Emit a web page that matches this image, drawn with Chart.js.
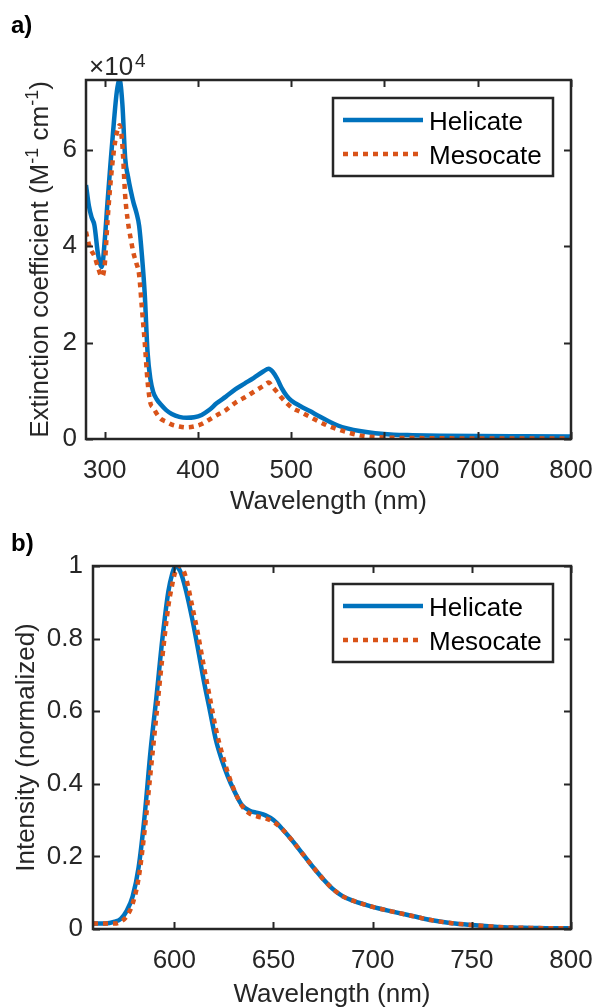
<!DOCTYPE html>
<html>
<head>
<meta charset="utf-8">
<script src="https://cdn.jsdelivr.net/npm/chart.js@4"></script>
<style>
  body { margin: 0; background: #fff; width: 596px; height: 1008px; overflow: hidden; }
  canvas { position: absolute; left: 0; }
  #absorption { top: 0; }
  #emission { top: 520px; }
</style>
</head>
<body>
<canvas id="absorption" width="596" height="520"></canvas>
<canvas id="emission" width="596" height="488"></canvas>
<script>
// a) absorption, extinction coefficient in units of 10^4 M^-1 cm^-1
const absWavelength = [280, 283, 286, 289, 293, 297, 300, 303, 306, 310, 313, 316, 319, 322, 325, 328,
  331, 334, 337, 340, 343, 346, 349, 352, 356, 360, 366, 372, 380, 388, 396, 404, 412, 420, 430, 440,
  450, 460, 470, 476, 480, 485, 490, 495, 500, 510, 520, 530, 540, 550, 560, 575, 590, 610, 630, 660,
  700, 750, 800];
const helicateAbs = [5.27, 4.85, 4.6, 4.44, 3.82, 3.57, 4.1, 4.9, 5.65, 6.6, 7.2, 7.45, 6.95, 5.83, 5.45, 5.15,
  4.9, 4.7, 4.42, 3.8, 3.0, 1.8, 1.25, 0.98, 0.82, 0.72, 0.6, 0.52, 0.46, 0.44, 0.45, 0.5, 0.6, 0.74, 0.88, 1.03,
  1.15, 1.27, 1.4, 1.46, 1.4, 1.25, 1.05, 0.9, 0.8, 0.68, 0.58, 0.47, 0.37, 0.28, 0.22, 0.16, 0.12, 0.09, 0.08, 0.07,
  0.06, 0.055, 0.05];
const mesocateAbs = [4.3, 4.05, 3.9, 3.8, 3.55, 3.37, 3.6, 4.5, 5.25, 6.0, 6.35, 6.51, 6.1, 5.05, 4.5, 4.15,
  3.85, 3.65, 3.4, 2.7, 2.0, 1.2, 0.75, 0.65, 0.52, 0.42, 0.36, 0.3, 0.26, 0.24, 0.26, 0.31, 0.4, 0.49, 0.6, 0.75,
  0.86, 0.98, 1.1, 1.17, 1.08, 0.97, 0.85, 0.75, 0.66, 0.56, 0.46, 0.36, 0.27, 0.2, 0.14, 0.07, 0.04, 0.025, 0.02, 0.015,
  0.01, 0.01, 0.01];
const absTicksX = [300, 400, 500, 600, 700, 800];
const absTicksY = [0, 2, 4, 6];

// b) emission, normalized intensity
const emWavelength = [559, 565, 570, 573, 576, 579, 582, 585, 588, 591, 594, 597, 599, 600, 601, 602,
  603, 604, 606, 609, 612, 615, 618, 621, 624, 627, 630, 634, 638, 642, 646, 650, 655, 660, 665, 670,
  675, 680, 685, 690, 700, 710, 720, 730, 740, 750, 760, 770, 780, 790, 800];
const helicateEm = [0.015, 0.015, 0.02, 0.028, 0.05, 0.09, 0.17, 0.31, 0.49, 0.64, 0.8, 0.93, 0.98, 0.995, 1.0, 0.995,
  0.985, 0.97, 0.93, 0.855, 0.77, 0.68, 0.6, 0.52, 0.465, 0.42, 0.383, 0.342, 0.326, 0.32, 0.313, 0.3, 0.272, 0.24, 0.205, 0.17,
  0.138, 0.11, 0.09, 0.078, 0.061, 0.048, 0.036, 0.024, 0.016, 0.011, 0.007, 0.004, 0.003, 0.002, 0.002];
const mesocateEm = [0.015, 0.015, 0.015, 0.02, 0.035, 0.07, 0.14, 0.27, 0.43, 0.59, 0.75, 0.89, 0.95, 0.975, 0.99, 0.998,
  1.0, 0.995, 0.965, 0.89, 0.81, 0.72, 0.635, 0.55, 0.485, 0.43, 0.385, 0.34, 0.318, 0.31, 0.305, 0.295, 0.272, 0.24, 0.205, 0.17,
  0.138, 0.11, 0.09, 0.078, 0.061, 0.048, 0.036, 0.024, 0.016, 0.011, 0.007, 0.004, 0.003, 0.002, 0.002];
const emTicksX = [600, 650, 700, 750, 800];
const emTicksY = [0, 0.2, 0.4, 0.6, 0.8, 1];

const seriesNames = ['Helicate', 'Mesocate'];

const FONT = '"Liberation Sans", Arial, Helvetica, sans-serif';
const SIZE = 26;
const INK = '#262626';
const BLUE = '#0072BD';
const ORANGE = '#D95319';

// per-panel layout, looked up by canvas id
const panels = {
  absorption: {
    height: 520,
    area: { left: 86, top: 80, right: 571, bottom: 439 },
    label: 'a)', labelY: 33,
    yTitle: [['Extinction coefficient (M', 0], ['-1', 1], [' cm', 0], ['-1', 1], [')', 0]],
    yTitleX: 48,
    xTitleY: 509,
    multiplier: true,
    yPad: 9
  },
  emission: {
    height: 488,
    area: { left: 93, top: 46, right: 571, bottom: 409 },
    label: 'b)', labelY: 31,
    yTitle: [['Intensity (normalized)', 0]],
    yTitleX: 34,
    xTitleY: 482,
    multiplier: false,
    yPad: 10
  }
};

function richWidth(ctx, parts, size) {
  let w = 0;
  parts.forEach(([t, sup]) => {
    ctx.font = (sup ? Math.round(size * 0.7) : size) + 'px ' + FONT;
    w += ctx.measureText(t).width;
  });
  return w;
}

function drawRich(ctx, parts, size, x) {
  parts.forEach(([t, sup]) => {
    ctx.font = (sup ? Math.round(size * 0.7) : size) + 'px ' + FONT;
    ctx.fillText(t, x, sup ? -size * 0.4 : 0);
    x += ctx.measureText(t).width;
  });
}

const framePlugin = {
  id: 'frame',
  afterDatasetsDraw(chart) {
    const p = panels[chart.canvas.id];
    const { ctx, chartArea: a, scales } = chart;
    ctx.save();
    ctx.strokeStyle = INK;
    ctx.lineWidth = 2.5;
    ctx.strokeRect(a.left, a.top, a.right - a.left, a.bottom - a.top);
    // inward ticks on all four sides
    const tl = 7;
    ctx.beginPath();
    scales.x.ticks.forEach(t => {
      const px = Math.round(scales.x.getPixelForValue(t.value)) + 0.5;
      ctx.moveTo(px, a.bottom); ctx.lineTo(px, a.bottom - tl);
      ctx.moveTo(px, a.top); ctx.lineTo(px, a.top + tl);
    });
    scales.y.ticks.forEach(t => {
      const py = Math.round(scales.y.getPixelForValue(t.value)) + 0.5;
      ctx.moveTo(a.left, py); ctx.lineTo(a.left + tl, py);
      ctx.moveTo(a.right, py); ctx.lineTo(a.right - tl, py);
    });
    ctx.lineWidth = 2;
    ctx.stroke();

    // legend
    const bw = 220, bh = 78;
    const bx = a.right - 18 - bw, by = a.top + 18;
    ctx.fillStyle = '#fff';
    ctx.fillRect(bx, by, bw, bh);
    ctx.lineWidth = 2.5;
    ctx.strokeStyle = INK;
    ctx.strokeRect(bx, by, bw, bh);
    const rows = [by + 22, by + 56];
    ctx.lineWidth = 4.5;
    ctx.lineCap = 'butt';
    ctx.strokeStyle = BLUE;
    ctx.setLineDash([]);
    ctx.beginPath(); ctx.moveTo(bx + 10, rows[0]); ctx.lineTo(bx + 90, rows[0]); ctx.stroke();
    ctx.strokeStyle = ORANGE;
    ctx.setLineDash([5, 5]);
    ctx.beginPath(); ctx.moveTo(bx + 10, rows[1]); ctx.lineTo(bx + 90, rows[1]); ctx.stroke();
    ctx.setLineDash([]);
    ctx.fillStyle = '#000';
    ctx.font = SIZE + 'px ' + FONT;
    ctx.textBaseline = 'alphabetic';
    ctx.textAlign = 'left';
    seriesNames.forEach((n, i) => ctx.fillText(n, bx + 96, rows[i] + 10));

    // panel label
    ctx.fillStyle = '#000';
    ctx.font = 'bold 24px ' + FONT;
    ctx.fillText(p.label, 11, p.labelY);

    // axis titles
    ctx.fillStyle = INK;
    ctx.font = SIZE + 'px ' + FONT;
    ctx.textAlign = 'center';
    ctx.fillText('Wavelength (nm)', (a.left + a.right) / 2, p.xTitleY);
    ctx.textAlign = 'left';
    ctx.save();
    ctx.translate(p.yTitleX, (a.top + a.bottom) / 2);
    ctx.rotate(-Math.PI / 2);
    const w = richWidth(ctx, p.yTitle, SIZE);
    drawRich(ctx, p.yTitle, SIZE, -w / 2);
    ctx.restore();

    if (p.multiplier) {
      ctx.font = SIZE + 'px ' + FONT;
      ctx.fillText('\u00d710', a.left + 3, a.top - 5);
      const mw = ctx.measureText('\u00d710').width;
      ctx.font = '19px ' + FONT;
      ctx.fillText('4', a.left + 5 + mw, a.top - 13);
    }
    ctx.restore();
  }
};

function makePanel(id, xs, hel, meso, xMin, xMax, yMax, ticksX, ticksY) {
  const p = panels[id];
  const tickFont = { family: FONT, size: SIZE };
  return new Chart(document.getElementById(id), {
    type: 'line',
    data: {
      datasets: [
        {
          label: seriesNames[0],
          data: xs.map((x, i) => ({ x: x, y: hel[i] })),
          borderColor: BLUE,
          borderWidth: 4.5,
          pointRadius: 0,
          cubicInterpolationMode: 'monotone',
          order: 1
        },
        {
          label: seriesNames[1],
          data: xs.map((x, i) => ({ x: x, y: meso[i] })),
          borderColor: ORANGE,
          borderWidth: 4.5,
          borderDash: [5, 5],
          borderCapStyle: 'butt',
          pointRadius: 0,
          cubicInterpolationMode: 'monotone',
          order: 0
        }
      ]
    },
    options: {
      responsive: false,
      animation: false,
      devicePixelRatio: 1,
      layout: { padding: { top: p.area.top, right: 596 - p.area.right, left: 0, bottom: 0 } },
      plugins: { legend: { display: false }, tooltip: { enabled: false } },
      scales: {
        x: {
          type: 'linear',
          min: xMin,
          max: xMax,
          afterBuildTicks: s => { s.ticks = ticksX.map(v => ({ value: v })); },
          afterFit: s => { s.height = p.height - p.area.bottom; s.paddingLeft = 0; s.paddingRight = 0; },
          grid: { display: false, drawTicks: false },
          border: { display: false },
          ticks: { padding: 16, color: INK, font: tickFont, maxRotation: 0, autoSkip: false, callback: v => String(v) }
        },
        y: {
          type: 'linear',
          min: 0,
          max: yMax,
          afterBuildTicks: s => { s.ticks = ticksY.map(v => ({ value: v })); },
          afterFit: s => { s.width = p.area.left; s.paddingTop = 0; s.paddingBottom = 0; },
          grid: { display: false, drawTicks: false },
          border: { display: false },
          ticks: { padding: p.yPad, color: INK, font: tickFont, autoSkip: false, callback: v => String(v) }
        }
      }
    },
    plugins: [framePlugin]
  });
}

makePanel('absorption', absWavelength, helicateAbs, mesocateAbs, 280, 800, 7.45, absTicksX, absTicksY);
makePanel('emission', emWavelength, helicateEm, mesocateEm, 559, 800, 1, emTicksX, emTicksY);
</script>
</body>
</html>
